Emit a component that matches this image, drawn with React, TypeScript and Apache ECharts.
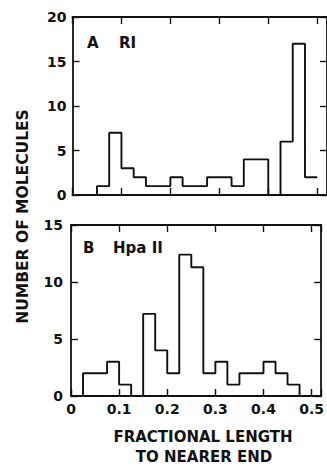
import React, { useEffect, useRef } from "react";
import * as echarts from "echarts";

const binWidth = 0.025;
const countsA = [0, 0, 1, 7, 3, 2, 1, 1, 2, 1, 1, 2, 2, 1, 4, 4, 0, 6, 17, 2];
const countsB = [0, 2, 2, 3, 1, 0, 7.2, 4, 2, 12.4, 11.3, 2, 3, 1, 2, 2, 3, 2, 1, 0];
const yTicksA = [0, 5, 10, 15, 20];
const yTicksB = [0, 5, 10, 15];
const xTickLabels = ["0", "0.1", "0.2", "0.3", "0.4", "0.5"];
const panelA = ["A", "RI"];
const panelB = ["B", "Hpa II"];
const yTitle = "NUMBER OF MOLECULES";
const xTitle = ["FRACTIONAL LENGTH", "TO NEARER END"];

const FONT = "'DejaVu Sans', 'Liberation Sans', sans-serif";
const INK = "#111";

function stepPoints(counts: number[]) {
  const pts: number[][] = [];
  counts.forEach((v, i) => {
    pts.push([i * binWidth, v]);
    pts.push([(i + 1) * binWidth, v]);
  });
  return pts;
}

export default function App() {
  const ref = useRef<HTMLDivElement>(null);
  useEffect(() => {
    if (!ref.current) return;
    const chart = echarts.init(ref.current, null, { renderer: "svg" });
    const xMax = 0.52;
    const line = { show: true, onZero: false, lineStyle: { color: INK, width: 1.8 } };
    const tick = { show: true, inside: true, length: 7, lineStyle: { color: INK, width: 1.4 } };
    const xAx = (gridIndex: number, position: string, labels: boolean) => ({
      type: "value",
      gridIndex,
      position,
      min: 0,
      max: xMax,
      interval: 0.1,
      axisLine: line,
      axisTick: tick,
      splitLine: { show: false },
      axisLabel: labels
        ? {
            show: true,
            margin: 6,
            color: INK,
            fontFamily: FONT,
            fontWeight: "bold",
            fontSize: 14,
            formatter: (v: number) => {
              const i = Math.round(v * 10);
              return Math.abs(v - i / 10) < 1e-6 && i < xTickLabels.length ? xTickLabels[i] : "";
            },
          }
        : { show: false },
    });
    const yAx = (gridIndex: number, position: string, ticks: number[], labels: boolean, margin: number) => ({
      type: "value",
      gridIndex,
      position,
      min: 0,
      max: ticks[ticks.length - 1],
      interval: ticks[1] - ticks[0],
      axisLine: line,
      axisTick: tick,
      splitLine: { show: false },
      axisLabel: labels
        ? { show: true, margin, color: INK, fontFamily: FONT, fontWeight: "bold", fontSize: 14 }
        : { show: false },
    });
    const labelFont = `bold 15px ${FONT}`;
    const titleFont = `bold 15px ${FONT}`;
    chart.setOption({
      animation: false,
      grid: [
        { left: 72.5, top: 17, width: 256.5, height: 178 },
        { left: 71, top: 225, width: 256.5, height: 171 },
      ],
      xAxis: [xAx(0, "bottom", false), xAx(0, "top", false), xAx(1, "bottom", true), xAx(1, "top", false)],
      yAxis: [
        yAx(0, "left", yTicksA, true, 6),
        yAx(0, "right", yTicksA, false, 0),
        yAx(1, "left", yTicksB, true, 8),
        yAx(1, "right", yTicksB, false, 0),
      ],
      series: [
        {
          type: "line",
          xAxisIndex: 0,
          yAxisIndex: 0,
          data: stepPoints(countsA),
          showSymbol: false,
          lineStyle: { color: INK, width: 1.9 },
        },
        {
          type: "line",
          xAxisIndex: 2,
          yAxisIndex: 2,
          data: stepPoints(countsB),
          showSymbol: false,
          lineStyle: { color: INK, width: 1.9 },
        },
      ],
      graphic: [
        { type: "text", left: 87, top: 35, style: { text: panelA[0], font: labelFont, fill: INK } },
        { type: "text", left: 119, top: 35, style: { text: panelA[1], font: labelFont, fill: INK } },
        { type: "text", left: 83, top: 240, style: { text: panelB[0], font: labelFont, fill: INK } },
        { type: "text", left: 113, top: 240, style: { text: panelB[1], font: labelFont, fill: INK } },
        {
          type: "text",
          x: 23,
          y: 216.5,
          rotation: Math.PI / 2,
          style: { text: yTitle, font: `bold 15.5px ${FONT}`, fill: INK, align: "center", verticalAlign: "middle" },
        },
        {
          type: "text",
          x: 203,
          y: 437,
          style: { text: xTitle[0], font: titleFont, fill: INK, align: "center", verticalAlign: "middle" },
        },
        {
          type: "text",
          x: 204,
          y: 457,
          style: { text: xTitle[1], font: titleFont, fill: INK, align: "center", verticalAlign: "middle" },
        },
      ],
    });
    return () => chart.dispose();
  }, []);
  return <div ref={ref} style={{ position: "fixed", left: 0, top: 0, width: 327, height: 466, background: "#fff" }} />;
}
